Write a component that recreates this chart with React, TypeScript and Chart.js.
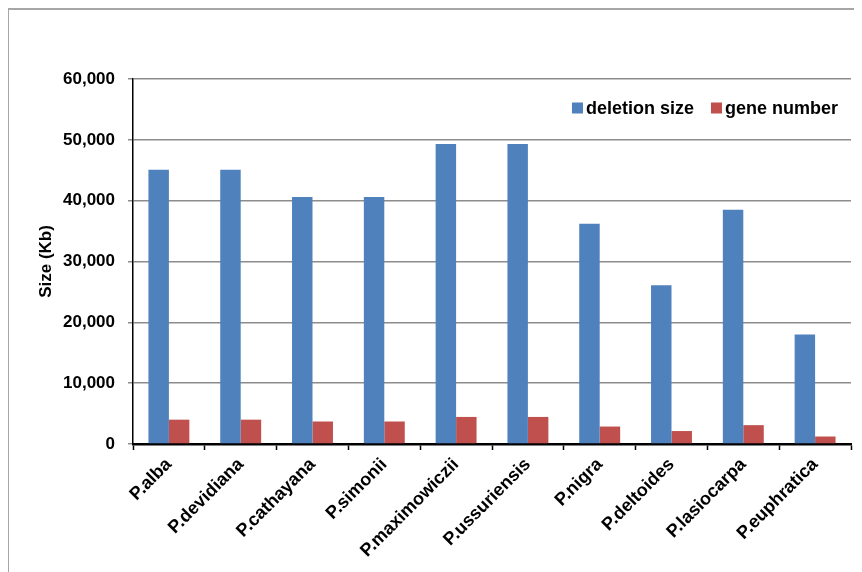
import React, { useEffect, useRef } from "react";
import { Chart, registerables } from "chart.js";

Chart.register(...registerables);

const species = [
  "P.alba",
  "P.devidiana",
  "P.cathayana",
  "P.simonii",
  "P.maximowiczii",
  "P.ussuriensis",
  "P.nigra",
  "P.deltoides",
  "P.lasiocarpa",
  "P.euphratica",
];

const deletionSize = [45100, 45100, 40600, 40600, 49300, 49300, 36200, 26100, 38500, 18000];
const geneNumber = [4000, 4000, 3700, 3700, 4450, 4450, 2870, 2130, 3100, 1230];

const yTicks = [0, 10000, 20000, 30000, 40000, 50000, 60000];

const FONT = "'Liberation Sans', Arial, sans-serif";

// Legend drawn inside the plot area, top-right, in one row.
const insideLegend = {
  id: "insideLegend",
  afterDraw(chart: any) {
    const ctx = chart.ctx;
    ctx.save();
    ctx.font = `bold 18px ${FONT}`;
    ctx.textBaseline = "middle";
    ctx.textAlign = "left";
    const box = 11;
    const gapBoxText = 3;
    const gapItems = 17;
    const items = chart.data.datasets.map((ds: any) => ({
      text: ds.label,
      color: ds.backgroundColor,
      w: ctx.measureText(ds.label).width,
    }));
    const total = items.reduce(
      (s: number, it: any, i: number) => s + box + gapBoxText + it.w + (i > 0 ? gapItems : 0),
      0
    );
    let x = chart.chartArea.right - 13 - total;
    const cy = chart.chartArea.top + 29;
    items.forEach((it: any, i: number) => {
      if (i > 0) x += gapItems;
      ctx.fillStyle = it.color;
      ctx.fillRect(x, cy - box / 2, box, box);
      x += box + gapBoxText;
      ctx.fillStyle = "#000";
      ctx.fillText(it.text, x, cy + 1);
      x += it.w;
    });
    ctx.restore();
  },
};

export default function App() {
  const canvasRef = useRef<HTMLCanvasElement | null>(null);

  useEffect(() => {
    const canvas = canvasRef.current;
    if (!canvas) return;
    const chart = new Chart(canvas, {
      type: "bar",
      data: {
        labels: species,
        datasets: [
          {
            label: "deletion size",
            data: deletionSize,
            backgroundColor: "#4F81BD",
            borderWidth: 0,
            categoryPercentage: 0.57,
            barPercentage: 1.0,
          },
          {
            label: "gene number",
            data: geneNumber,
            backgroundColor: "#C0504D",
            borderWidth: 0,
            categoryPercentage: 0.57,
            barPercentage: 1.0,
          },
        ],
      },
      options: {
        animation: false,
        responsive: false,
        maintainAspectRatio: false,
        layout: { padding: { top: 71, right: 11, left: 0, bottom: 0 } },
        plugins: {
          legend: { display: false },
          tooltip: { enabled: false },
        },
        scales: {
          x: {
            grid: {
              offset: true,
              drawOnChartArea: false,
              drawTicks: true,
              tickLength: 6,
              tickColor: "#000",
              tickWidth: 1.5,
            },
            border: { display: true, color: "#000", width: 2.5 },
            ticks: {
              color: "#000",
              font: { family: FONT, size: 18, weight: "bold" },
              minRotation: 45,
              maxRotation: 45,
              autoSkip: false,
              padding: 4,
            },
            afterFit(scale: any) {
              scale.height = 128;
            },
          },
          y: {
            min: 0,
            max: 60000,
            afterBuildTicks(scale: any) {
              scale.ticks = yTicks.map((v) => ({ value: v }));
            },
            grid: {
              color: "#8c8c8c",
              lineWidth: 1.5,
              drawTicks: true,
              tickLength: 5,
              tickColor: "#8c8c8c",
            },
            border: { display: true, color: "#000", width: 1.5 },
            ticks: {
              color: "#000",
              font: { family: FONT, size: 17, weight: "bold" },
              padding: 13,
              callback: (v: any) => Number(v).toLocaleString("en-US"),
            },
            title: {
              display: true,
              text: "Size (Kb)",
              color: "#000",
              font: { family: FONT, size: 17, weight: "bold" },
              padding: { top: 28, bottom: 0 },
            },
            afterFit(scale: any) {
              scale.width = 125;
            },
          },
        },
      },
      plugins: [insideLegend],
    });
    return () => chart.destroy();
  }, []);

  return (
    <div style={{ position: "relative", width: 854, height: 564, overflow: "hidden" }}>
      <div
        style={{
          position: "absolute",
          left: -1,
          top: 0,
          width: 900,
          height: 900,
          border: "2px solid #a6a6a6",
          boxSizing: "border-box",
        }}
      />
      <canvas
        ref={canvasRef}
        width={854}
        height={564}
        style={{ position: "absolute", left: 0, top: 0, width: 854, height: 564 }}
      />
    </div>
  );
}
